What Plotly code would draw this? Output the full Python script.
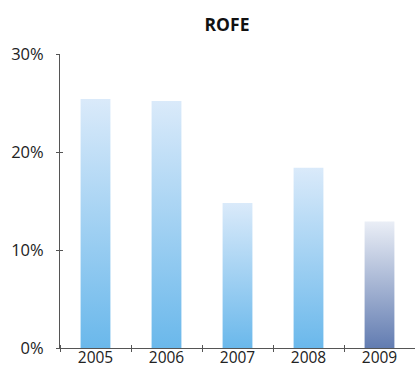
import plotly.graph_objects as go

# ROFE by year (%)
years = ["2005", "2006", "2007", "2008", "2009"]
rofe = [25.4, 25.2, 14.8, 18.4, 12.9]
y_ticks = [0, 10, 20, 30]
y_tick_labels = ["0%", "10%", "20%", "30%"]

# gradient colour scales (bottom -> top)
blue_scale = [[0, "rgb(106,184,235)"], [1, "rgb(218,234,250)"]]
slate_scale = [[0, "rgb(98,124,177)"], [1, "rgb(234,238,246)"]]
bar_scales = [blue_scale, blue_scale, blue_scale, blue_scale, slate_scale]

BAR_WIDTH = 0.42
AXIS_COLOR = "#555555"
FONT = "Open Sans, Noto Sans, sans-serif"

fig = go.Figure()

for i, (val, scale) in enumerate(zip(rofe, bar_scales)):
    x0, x1 = i - BAR_WIDTH / 2, i + BAR_WIDTH / 2
    fig.add_trace(go.Scatter(
        x=[x0, x1, x1, x0, x0],
        y=[0, 0, val, val, 0],
        mode="lines",
        line=dict(width=0),
        fill="toself",
        fillgradient=dict(type="vertical", colorscale=scale, start=0, stop=val),
        hoverinfo="skip",
        showlegend=False,
    ))

common_x = dict(range=[-0.5, 4.5], showgrid=False, zeroline=False,
                fixedrange=True, automargin=False)
common_y = dict(range=[0, 30], showgrid=False, zeroline=False,
                fixedrange=True, automargin=False)

fig.update_layout(
    width=415, height=369,
    margin=dict(l=60, r=0, t=54, b=21),
    paper_bgcolor="white", plot_bgcolor="white",
    font=dict(family=FONT, size=16, color="#222222"),
    title=dict(text="<b>ROFE</b>", x=227 / 415, xanchor="center",
               y=1 - 25 / 369, yanchor="middle",
               font=dict(family=FONT, size=17.5, color="#111111")),
    xaxis=dict(
        **common_x,
        tickmode="array", tickvals=list(range(len(years))), ticktext=years,
        ticks="", showline=True, linecolor=AXIS_COLOR, linewidth=1,
        tickfont=dict(size=15.5), ticklabelstandoff=-5,
        minor=dict(tickmode="array", tickvals=[-0.5, 0.5, 1.5, 2.5, 3.5],
                   ticks="outside", ticklen=3, tickcolor=AXIS_COLOR, tickwidth=1),
    ),
    xaxis2=dict(
        **common_x, overlaying="x", anchor="y",
        showticklabels=False, showline=False, ticks="",
        minor=dict(tickmode="array", tickvals=[-0.5, 0.5, 1.5, 2.5, 3.5],
                   ticks="inside", ticklen=3, tickcolor=AXIS_COLOR, tickwidth=1),
    ),
    yaxis=dict(
        **common_y,
        tickmode="array", tickvals=y_ticks, ticktext=y_tick_labels,
        ticks="outside", ticklen=3, tickcolor=AXIS_COLOR, tickwidth=1,
        showline=True, linecolor=AXIS_COLOR, linewidth=1,
        tickfont=dict(size=16.5), ticklabelstandoff=9,
    ),
    yaxis2=dict(
        **common_y, overlaying="y", anchor="x",
        tickmode="array", tickvals=y_ticks, showticklabels=False,
        ticks="inside", ticklen=3, tickcolor=AXIS_COLOR, tickwidth=1,
        showline=False,
    ),
)

# invisible trace so the overlay axes are drawn
fig.add_trace(go.Scatter(x=[None], y=[None], xaxis="x2", yaxis="y2",
                         showlegend=False, hoverinfo="skip"))

fig.write_html("out.html")
